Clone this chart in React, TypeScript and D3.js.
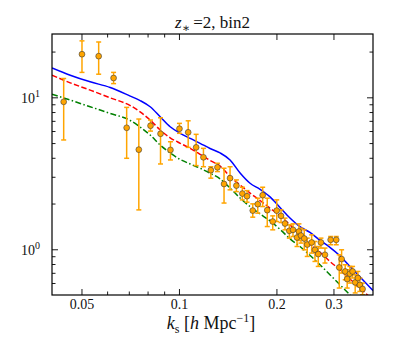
import React from 'react';
import * as d3 from 'd3';

// measured band powers (k in h/Mpc)
const kData = [0.0439, 0.0500, 0.0563, 0.0626, 0.0687, 0.0749, 0.0814, 0.0874, 0.0938, 0.1000, 0.1064, 0.1126, 0.1186, 0.1250, 0.1310, 0.1373, 0.1433, 0.1499, 0.1564, 0.1617, 0.1684, 0.1745, 0.1807, 0.1867, 0.1941, 0.1997, 0.2059, 0.2118, 0.2184, 0.2242, 0.2307, 0.2339, 0.2373, 0.2429, 0.2481, 0.2560, 0.2621, 0.2683, 0.2735, 0.2814, 0.2930, 0.3049, 0.3115, 0.3168, 0.3250, 0.3296, 0.3360, 0.3425, 0.3489, 0.3556, 0.3607, 0.3677];
const pData = [9.41, 19.36, 18.8, 13.5, 6.35, 4.56, 6.55, 5.80, 4.54, 6.26, 5.93, 4.72, 4.06, 3.34, 3.49, 2.71, 2.96, 2.644, 2.343, 2.252, 1.811, 1.996, 2.287, 1.823, 1.534, 1.811, 1.672, 1.488, 1.333, 1.353, 1.204, 1.319, 1.241, 1.186, 1.083, 1.117, 1.0, 0.937, 1.117, 0.927, 1.163, 1.163, 0.765, 0.869, 0.720, 0.642, 0.696, 0.720, 0.610, 0.652, 0.587, 0.552];
const pHigh = [13.4, 23.7, 23.3, 14.7, 8.65, 7.25, 7.14, 7.39, 5.14, 6.79, 7.06, 5.75, 4.65, 3.52, 3.71, 3.44, 3.52, 2.882, 2.580, 2.451, 2.005, 2.185, 2.580, 2.185, 1.672, 2.130, 1.831, 1.615, 1.459, 1.481, 1.353, 1.481, 1.388, 1.353, 1.193, 1.254, 1.134, 1.051, 1.193, 1.026, 1.223, 1.223, 0.927, 1.0, 0.797, 0.739, 0.777, 0.777, 0.685, 0.720, 0.652, 0.604];
const pLow = [5.28, 14.7, 14.3, 12.4, 4.0, 1.83, 6.04, 3.67, 3.90, 5.84, 4.72, 3.58, 3.52, 2.96, 3.27, 2.03, 2.48, 2.414, 2.130, 2.057, 1.639, 1.742, 1.925, 1.422, 1.353, 1.534, 1.511, 1.353, 1.193, 1.223, 1.051, 1.151, 1.107, 1.0, 0.904, 0.951, 0.838, 0.777, 1.026, 0.818, 1.079, 1.079, 0.560, 0.703, 0.635, 0.560, 0.604, 0.652, 0.520, 0.574, 0.532, 0.506];

// model curves
const kModel = [0.0404, 0.046, 0.053, 0.0611, 0.0705, 0.0756, 0.0812, 0.0872, 0.0936, 0.1005, 0.1079, 0.1158, 0.1243, 0.1335, 0.1433, 0.1539, 0.1652, 0.1774, 0.1904, 0.2044, 0.2194, 0.2356, 0.2529, 0.2716, 0.2915, 0.313, 0.336, 0.3607, 0.3965];
const blueModel = [15.74, 14.09, 12.74, 11.70, 10.26, 9.59, 8.73, 7.50, 6.45, 5.84, 5.41, 5.02, 4.64, 4.34, 3.90, 3.20, 2.74, 2.50, 2.23, 1.90, 1.62, 1.42, 1.30, 1.154, 1.038, 0.913, 0.777, 0.665, 0.538];
const redModel = [14.09, 12.55, 11.23, 10.0, 8.89, 8.09, 7.14, 6.14, 5.46, 5.02, 4.65, 4.25, 3.87, 3.56, 3.03, 2.67, 2.36, 2.11, 1.88, 1.67, 1.46, 1.254, 1.087, 0.963, 0.838, 0.739, 0.642, 0.560, 0.466];
const greenModel = [10.57, 9.66, 8.73, 7.90, 7.09, 6.42, 5.69, 4.89, 4.34, 3.93, 3.67, 3.44, 3.19, 2.93, 2.55, 2.19, 1.925, 1.72, 1.55, 1.363, 1.181, 1.051, 0.920, 0.797, 0.685, 0.589, 0.506, 0.435, 0.358];

const xMajor = [0.05, 0.1, 0.2, 0.3];
const xLabels = ['0.05', '0.1', '0.2', '0.3'];
const xMinor = [0.06, 0.07, 0.08, 0.09];
const yMajor = [1, 10];
const yLabels = ['0', '1'];
const yMinor = [0.6, 0.7, 0.8, 0.9, 2, 3, 4, 5, 6, 7, 8, 9, 20];

const W = 415, H = 346;
const m = { left: 52, right: 373, top: 34, bottom: 295 };
const font = "'Liberation Serif', 'DejaVu Serif', serif";

export default function App() {
  const x = d3.scaleLog().domain([0.0404, 0.396]).range([m.left, m.right]);
  const y = d3.scaleLog().domain([0.504, 26.3]).range([m.bottom, m.top]);

  const mk = (vals: number[]) =>
    d3.line<number>()
      .x((_, i) => x(kModel[i]))
      .y(d => y(d))
      .curve(d3.curveMonotoneX)(vals) || '';

  const models = [
    { vals: greenModel, color: '#008000', dash: '6,2.4,1.5,2.4' },
    { vals: redModel, color: '#ff0000', dash: '5.5,2.4' },
    { vals: blueModel, color: '#0000ff', dash: 'none' },
  ];

  return (
    <svg width={W} height={H} style={{ position: 'absolute', left: 0, top: 0, background: '#fff', fontFamily: font }}>
      <defs>
        <clipPath id="plot">
          <rect x={m.left} y={m.top} width={m.right - m.left} height={m.bottom - m.top} />
        </clipPath>
      </defs>

      <g clipPath="url(#plot)">
        {models.map((s, i) => (
          <path key={i} d={mk(s.vals)} fill="none" stroke={s.color} strokeWidth={1.5}
            strokeDasharray={s.dash} />
        ))}
        {kData.map((k, i) => (
          <g key={i} stroke="#ffa500" strokeWidth={1.5}>
            <line x1={x(k)} x2={x(k)} y1={y(pLow[i])} y2={y(pHigh[i])} />
            <line x1={x(k) - 2.5} x2={x(k) + 2.5} y1={y(pLow[i])} y2={y(pLow[i])} />
            <line x1={x(k) - 2.5} x2={x(k) + 2.5} y1={y(pHigh[i])} y2={y(pHigh[i])} />
          </g>
        ))}
        {kData.map((k, i) => (
          <circle key={i} cx={x(k)} cy={y(pData[i])} r={2.9} fill="#ffa500" stroke="#3a3a3a" strokeWidth={0.6} />
        ))}
      </g>

      {/* ticks, inward on all sides */}
      <g stroke="#000" strokeWidth={0.9}>
        {xMajor.map(t => (
          <g key={'xM' + t}>
            <line x1={x(t)} x2={x(t)} y1={m.bottom} y2={m.bottom - 6} />
            <line x1={x(t)} x2={x(t)} y1={m.top} y2={m.top + 6} />
          </g>
        ))}
        {xMinor.map(t => (
          <g key={'xm' + t}>
            <line x1={x(t)} x2={x(t)} y1={m.bottom} y2={m.bottom - 3.5} />
            <line x1={x(t)} x2={x(t)} y1={m.top} y2={m.top + 3.5} />
          </g>
        ))}
        {yMajor.map(t => (
          <g key={'yM' + t}>
            <line x1={m.left} x2={m.left + 6} y1={y(t)} y2={y(t)} />
            <line x1={m.right} x2={m.right - 6} y1={y(t)} y2={y(t)} />
          </g>
        ))}
        {yMinor.map(t => (
          <g key={'ym' + t}>
            <line x1={m.left} x2={m.left + 3.5} y1={y(t)} y2={y(t)} />
            <line x1={m.right} x2={m.right - 3.5} y1={y(t)} y2={y(t)} />
          </g>
        ))}
      </g>
      <rect x={m.left} y={m.top} width={m.right - m.left} height={m.bottom - m.top}
        fill="none" stroke="#000" strokeWidth={1.2} />

      {/* tick labels */}
      <g fontSize={14} fill="#111">
        {xMajor.map((t, i) => (
          <text key={t} x={x(t)} y={309} textAnchor="middle">{xLabels[i]}</text>
        ))}
        {yMajor.map((t, i) => (
          <text key={t} x={40} y={y(t) + 5} textAnchor="end">
            10<tspan fontSize={10} dy={-6}>{yLabels[i]}</tspan>
          </text>
        ))}
      </g>

      {/* title */}
      <text x={212.5} y={28} textAnchor="middle" fontSize={17} fill="#111">
        <tspan fontStyle="italic">z</tspan>
        <tspan fontSize={12} dy={4}>∗</tspan>
        <tspan dy={-4}>{'\u2009=2, bin2'}</tspan>
      </text>

      {/* x label */}
      <text x={211} y={329} textAnchor="middle" fontSize={18} fill="#111">
        <tspan fontStyle="italic">k</tspan>
        <tspan fontSize={12} dy={4}>s</tspan>
        <tspan dy={-4}>{' ['}</tspan>
        <tspan fontStyle="italic">h</tspan>
        <tspan>{' Mpc'}</tspan>
        <tspan fontSize={12} dy={-7}>−1</tspan>
        <tspan dy={7}>]</tspan>
      </text>
    </svg>
  );
}
